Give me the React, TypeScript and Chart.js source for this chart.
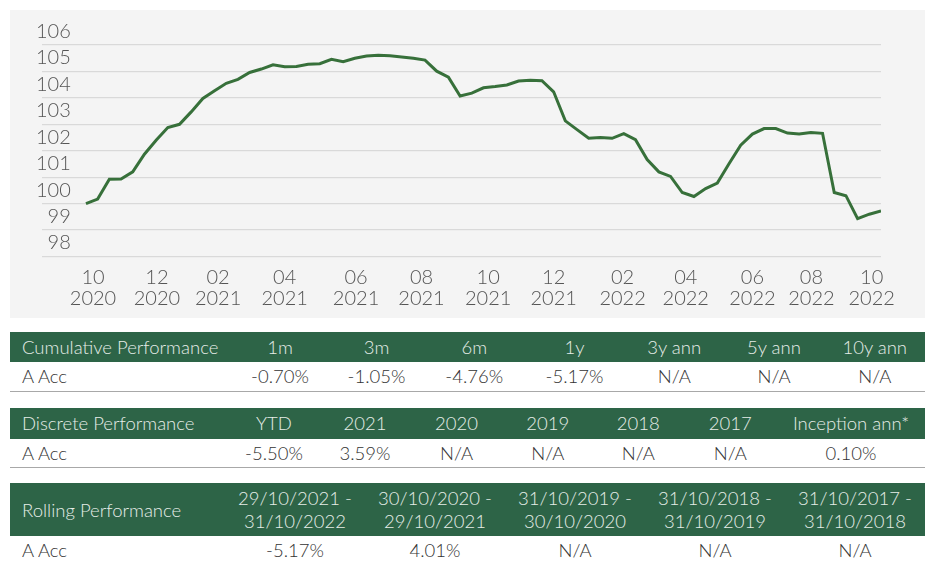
import React, { useEffect, useRef } from "react";
import { Chart, registerables } from "chart.js";

Chart.register(...registerables);

// Fund performance series (rebased), one value per observation
const seriesValues: number[] = [
  100.0, 100.17, 100.92, 100.93, 101.2, 101.87, 102.4, 102.88, 103.0, 103.47,
  103.98, 104.27, 104.55, 104.7, 104.96, 105.09, 105.25, 105.18, 105.19, 105.27,
  105.29, 105.46, 105.37, 105.5, 105.58, 105.61, 105.59, 105.55, 105.5, 105.43,
  105.01, 104.78, 104.07, 104.18, 104.38, 104.43, 104.49, 104.64, 104.67, 104.65,
  104.23, 103.13, 102.8, 102.47, 102.5, 102.47, 102.65, 102.42, 101.67, 101.2,
  101.03, 100.42, 100.27, 100.57, 100.78, 101.51, 102.21, 102.63, 102.84, 102.84,
  102.67, 102.63, 102.69, 102.66, 100.42, 100.3, 99.43, 99.6, 99.72,
];

// Month tick positions (in observation index units) and their labels
const xTickPositions: number[] = [0.6, 6.07, 11.3, 17.0, 23.1, 28.7, 34.4, 40.0, 45.9, 51.3, 57.0, 62.05, 67.2];
const xTickLabels: string[][] = [
  ["10", "2020"], ["12", "2020"], ["02", "2021"], ["04", "2021"], ["06", "2021"], ["08", "2021"],
  ["10", "2021"], ["12", "2021"], ["02", "2022"], ["04", "2022"], ["06", "2022"], ["08", "2022"],
  ["10", "2022"],
];
const yMin = 98;
const yMax = 106;

// Tables
const rowLabel = "A Acc";
const cumTitle = "Cumulative Performance";
const cumHeaders = ["1m", "3m", "6m", "1y", "3y ann", "5y ann", "10y ann"];
const cumValues = ["-0.70%", "-1.05%", "-4.76%", "-5.17%", "N/A", "N/A", "N/A"];
const discTitle = "Discrete Performance";
const discHeaders = ["YTD", "2021", "2020", "2019", "2018", "2017", "Inception ann*"];
const discValues = ["-5.50%", "3.59%", "N/A", "N/A", "N/A", "N/A", "0.10%"];
const rollTitle = "Rolling Performance";
const rollHeaders = [
  "29/10/2021 -\n31/10/2022",
  "30/10/2020 -\n29/10/2021",
  "31/10/2019 -\n30/10/2020",
  "31/10/2018 -\n31/10/2019",
  "31/10/2017 -\n31/10/2018",
];
const rollValues = ["-5.17%", "4.01%", "N/A", "N/A", "N/A"];

const FONT = "Lato, 'Noto Sans', sans-serif";

function PerfTable(props: {
  title: string;
  headers: string[];
  values: string[];
  widths: number[];
  headerHeight: number;
  marginTop: number;
}) {
  const { title, headers, values, widths, headerHeight, marginTop } = props;
  const cell: React.CSSProperties = { padding: 0, fontWeight: 300, textAlign: "center", verticalAlign: "middle" };
  return (
    <table
      style={{
        borderCollapse: "collapse",
        tableLayout: "fixed",
        width: 915,
        marginTop,
        fontFamily: FONT,
        fontWeight: 300,
        fontSize: 18.5,
      }}
    >
      <colgroup>
        {widths.map((w, i) => (
          <col key={i} style={{ width: w }} />
        ))}
      </colgroup>
      <thead>
        <tr style={{ background: "#2d6447", color: "#e6ede8", height: headerHeight }}>
          <th style={{ ...cell, textAlign: "left", paddingLeft: 12 }}>{title}</th>
          {headers.map((h, i) => (
            <th key={i} style={{ ...cell, whiteSpace: "pre-line", lineHeight: "23px" }}>
              {h}
            </th>
          ))}
        </tr>
      </thead>
      <tbody>
        <tr style={{ height: 29, borderBottom: "1px solid #a8a8a8", color: "#333" }}>
          <td style={{ ...cell, textAlign: "left", paddingLeft: 12 }}>{rowLabel}</td>
          {values.map((v, i) => (
            <td key={i} style={cell}>
              {v}
            </td>
          ))}
        </tr>
      </tbody>
    </table>
  );
}

export default function App() {
  const canvasRef = useRef<HTMLCanvasElement | null>(null);

  useEffect(() => {
    if (!canvasRef.current) return;
    const tickFont = { family: FONT, size: 20, weight: 300 as any, lineHeight: 1.05 };
    const chart = new Chart(canvasRef.current, {
      type: "line",
      data: {
        datasets: [
          {
            data: seriesValues.map((v, i) => ({ x: i, y: v })),
            borderColor: "#37703a",
            borderWidth: 3,
            pointRadius: 0,
            tension: 0,
            fill: false,
          },
        ],
      },
      options: {
        animation: false,
        responsive: false,
        layout: { padding: { left: 32, right: 44, top: 35, bottom: -1.5 } },
        plugins: { legend: { display: false }, tooltip: { enabled: false } },
        scales: {
          x: {
            type: "linear",
            min: -3.76,
            max: seriesValues.length - 1,
            grid: { display: false, drawTicks: false },
            border: { display: false },
            afterBuildTicks: (axis: any) => {
              axis.ticks = xTickPositions.map((v) => ({ value: v }));
            },
            ticks: {
              autoSkip: false,
              maxRotation: 0,
              padding: 10.5,
              color: "#555",
              font: tickFont,
              callback: (_v: any, i: number) => xTickLabels[i],
            },
          },
          y: {
            min: yMin,
            max: yMax,
            grid: { color: "#d9d9d9", lineWidth: 1.2, drawTicks: false },
            border: { display: false },
            ticks: {
              stepSize: 1,
              autoSkip: false,
              mirror: true,
              crossAlign: "far",
              padding: -2,
              labelOffset: -13.5,
              color: "#555",
              font: tickFont,
            },
          },
        },
      },
    });
    return () => chart.destroy();
  }, []);

  return (
    <div style={{ position: "absolute", left: 10, top: 10, width: 915 }}>
      <div style={{ width: 915, height: 308, background: "#f4f4f4" }}>
        <canvas ref={canvasRef} width={915} height={308} style={{ display: "block" }} />
      </div>
      <PerfTable
        title={cumTitle}
        headers={cumHeaders}
        values={cumValues}
        widths={[221.5, 97, 96, 99.5, 101, 98.5, 101, 100.5]}
        headerHeight={30}
        marginTop={14}
      />
      <PerfTable
        title={discTitle}
        headers={discHeaders}
        values={discValues}
        widths={[218.5, 91, 91, 92, 90.5, 90.5, 93.5, 148]}
        headerHeight={31}
        marginTop={16}
      />
      <PerfTable
        title={rollTitle}
        headers={rollHeaders}
        values={rollValues}
        widths={[215, 140, 140, 140, 140, 140]}
        headerHeight={53}
        marginTop={15}
      />
    </div>
  );
}
